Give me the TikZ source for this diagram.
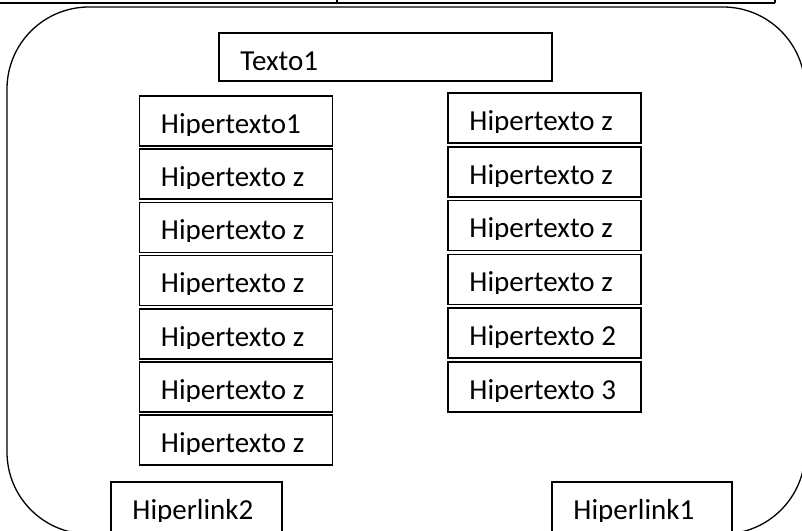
\documentclass[tikz,border=0pt]{standalone}
\usepackage{fontspec}
\setmainfont{Carlito}
\usepackage{tikz}
\usetikzlibrary{shapes, arrows, positioning}

\begin{document}
\begin{tikzpicture}[x=1pt, y=-1pt, node distance=53.2pt]
        % Define block styles
        \tikzstyle{hbox} = [draw, rectangle, line width=1.5pt, minimum width=193pt, minimum height=50pt, inner sep=0pt]
        \tikzstyle{htext} = [inner sep=0pt, anchor=base west, font=\fontsize{29pt}{34pt}\selectfont]
        \useasboundingbox (0,0) rectangle (802,530);

        % Page frame
        \draw [line width=2.4pt] (0,3) -- (775,3);
        \draw [line width=1.6pt] (337,0) -- (337,3);
        \draw [line width=1.6pt] (775,0) -- (775,3);
        \draw [line width=1.3pt, rounded corners=82pt] (7,7) rectangle (805,534);

        % Nodes
        \node [hbox, minimum width=333pt, minimum height=48pt] (texto) at (385.5,57) {};
        \node [hbox] (l1) at (236,121) {};
        \node [hbox, below of=l1] (l2) {};
        \node [hbox, below of=l2] (l3) {};
        \node [hbox, below of=l3] (l4) {};
        \node [hbox, below of=l4] (l5) {};
        \node [hbox, below of=l5] (l6) {};
        \node [hbox, below of=l6] (l7) {};
        \node [hbox] (r1) at (544.5,118) {};
        \node [hbox, below of=r1, node distance=53.8pt] (r2) {};
        \node [hbox, below of=r2, node distance=53.8pt] (r3) {};
        \node [hbox, below of=r3, node distance=53.8pt] (r4) {};
        \node [hbox, below of=r4, node distance=53.8pt] (r5) {};
        \node [hbox, below of=r5, node distance=53.8pt] (r6) {};
        \node [hbox, minimum width=171pt, minimum height=60pt] (link2) at (196.5,512) {};
        \node [hbox, minimum width=180pt, minimum height=60pt] (link1) at (642,512) {};

        % Texts, cut off below the baseline
        \foreach \n/\t in {texto/Texto1, l1/Hipertexto1, l2/Hipertexto z, l3/Hipertexto z,
            l4/Hipertexto z, l5/Hipertexto z, l6/Hipertexto z, l7/Hipertexto z,
            r1/Hipertexto z, r2/Hipertexto z, r3/Hipertexto z, r4/Hipertexto z,
            r5/Hipertexto 2, r6/Hipertexto 3, link2/Hiperlink2, link1/Hiperlink1} {
            \begin{scope}
                \clip (\n.north west) rectangle ([yshift=-40pt]\n.north east);
                \node [htext] (\n-txt) at ([xshift=22pt, yshift=-38pt]\n.north west) {\t};
            \end{scope}
        }
    \end{tikzpicture}
\end{document}
